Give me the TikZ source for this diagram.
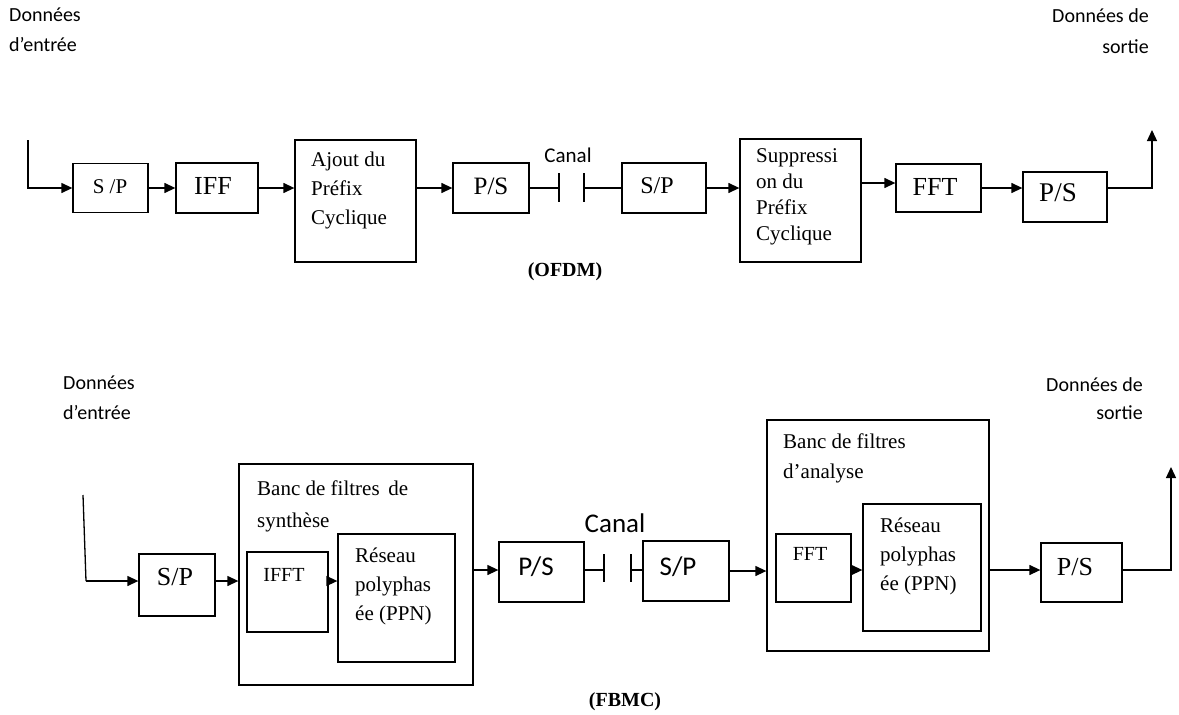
\documentclass[tikz,border=0pt]{standalone}
\usepackage{fontspec}
\setmainfont{Liberation Serif}
\newfontfamily\carl{Carlito}
\usetikzlibrary{arrows.meta,calc}
\newcommand\myfs[2]{\fontsize{#1}{#2}\selectfont}
\begin{document}
\begin{tikzpicture}[x=1pt,y=-1pt,
  box/.style={draw, line width=1.3pt, inner sep=0pt},
  arr/.style={line width=1.3pt, -{Triangle[length=11pt,width=10pt]}},
  ln/.style={line width=1.3pt},
  txt/.style={inner sep=0pt, align=left},
  rtxt/.style={inner sep=0pt, align=right},
]
\useasboundingbox (0,0) rectangle (1179,715);

% ================= OFDM =================
\node[txt, font=\carl\myfs{20}{30}, anchor=west] (din1) at (9,30) {Données\\d’entrée};
\node[rtxt, font=\carl\myfs{20}{31}, anchor=east] (dout1) at (1149,31) {Données de\\sortie};

\node[box, minimum width=75pt, minimum height=49pt] (sp1) at (110.5,188) {};
\node[txt, font=\myfs{21}{25}] (sp1t) at (110,187) {S /P};
\node[box, minimum width=82pt, minimum height=50pt] (iff) at (217,188) {};
\node[txt, font=\myfs{26}{30}] (ifft1) at (213,186) {IFF};
\node[box, minimum width=121pt, minimum height=122pt] (ajout) at (355.5,201) {};
\node[txt, font=\myfs{21}{29}, anchor=west] (ajoutt) at (311,190) {Ajout du\\Préfix\\Cyclique};
\node[box, minimum width=76pt, minimum height=50pt] (ps1) at (491,188) {};
\node[txt, font=\myfs{25}{29}] (ps1t) at (491,186) {P/S};
\node[box, minimum width=84pt, minimum height=50pt] (sp2) at (664,188) {};
\node[txt, font=\myfs{24}{28}] (sp2t) at (657,186) {S/P};
\node[box, minimum width=121pt, minimum height=123pt] (supp) at (800.5,200.5) {};
\node[txt, font=\myfs{21}{26}, anchor=west] (suppt) at (756,197) {Suppressi\\on du\\Préfix\\Cyclique};
\node[box, minimum width=85pt, minimum height=48pt] (fft) at (938.5,188) {};
\node[txt, font=\myfs{26}{30}] (fftt) at (935,187) {FFT};
\node[box, minimum width=84pt, minimum height=50pt] (ps2) at (1065,197) {};
\node[txt, font=\myfs{27}{31}] (ps2t) at (1058,193) {P/S};

\node[txt, font=\carl\myfs{21}{25}] (canal1) at (568,155) {Canal};
\node[txt, font=\bfseries\myfs{20}{24}] (ofdm) at (565,272) {(OFDM)};

\coordinate (in1) at (28,140);
\coordinate (out1) at (1152,130);
\coordinate (b1) at (559,188);
\coordinate (b2) at (584,188);
\coordinate (ya) at (0,188);
\coordinate (yb) at (0,183);

\draw[arr] (in1) |- (sp1.west);
\draw[arr] (sp1.east) -- (iff.west);
\draw[arr] (iff.east) -- (iff.east -| ajout.west);
\draw[arr] (ajout.east |- ya) -- (ps1.west);
\draw[ln] (ps1.east) -- (b1);
\draw[ln] ($(b1)+(0,-15)$) -- ($(b1)+(0,14)$);
\draw[ln] ($(b2)+(0,-15)$) -- ($(b2)+(0,14)$);
\draw[ln] (b2) -- (sp2.west);
\draw[arr] (sp2.east) -- (sp2.east -| supp.west);
\draw[arr] (supp.east |- yb) -- (fft.west |- yb);
\draw[arr] (fft.east) -- (fft.east -| ps2.west);
\draw[arr] (ps2.east |- ya) -| (out1);

% ================= FBMC =================
\node[txt, font=\carl\myfs{20}{30}, anchor=west] (din2) at (63,398) {Données\\d’entrée};
\node[rtxt, font=\carl\myfs{20}{28}, anchor=east] (dout2) at (1143,399) {Données de\\sortie};

\node[box, minimum width=76pt, minimum height=62pt] (sp3) at (177,585) {};
\node[txt, font=\myfs{26}{30}] (sp3t) at (175,577) {S/P};

\node[box, minimum width=234pt, minimum height=221pt] (synth) at (356,574.5) {};
\node[txt, font=\myfs{21}{32}, anchor=west] (syntht) at (257,506) {Banc de filtres \,de\\synthèse};
\node[box, minimum width=81pt, minimum height=80pt] (ifft) at (287.5,592) {};
\node[txt, font=\myfs{20}{24}] (iffttx) at (284,575) {IFFT};
\node[box, minimum width=117pt, minimum height=128pt] (res1) at (396.5,598) {};
\node[txt, font=\myfs{21}{29}, anchor=west] (res1t) at (355,586) {Réseau\\polyphas\\ée (PPN)};

\node[box, minimum width=85pt, minimum height=60pt] (ps3) at (541.5,572) {};
\node[txt, font=\carl\myfs{27}{31}] (ps3t) at (536,567) {P/S};
\node[box, minimum width=86pt, minimum height=60pt] (sp4) at (686,571) {};
\node[txt, font=\carl\myfs{27}{31}] (sp4t) at (678,567) {S/P};
\node[txt, font=\carl\myfs{27}{31}] (canal2) at (615,523) {Canal};

\node[box, minimum width=222pt, minimum height=231pt] (ana) at (878,535.5) {};
\node[txt, font=\myfs{21}{30}, anchor=west] (anat) at (783,458) {Banc de filtres\\d’analyse};
\node[box, minimum width=75pt, minimum height=68pt] (fft2) at (813.5,568) {};
\node[txt, font=\myfs{20}{24}] (fft2t) at (810,554) {FFT};
\node[box, minimum width=118pt, minimum height=127pt] (res2) at (922,567.5) {};
\node[txt, font=\myfs{21}{29}, anchor=west] (res2t) at (880,556) {Réseau\\polyphas\\ée (PPN)};

\node[box, minimum width=81pt, minimum height=59pt] (ps4) at (1081.5,572.5) {};
\node[txt, font=\myfs{26}{30}] (ps4t) at (1075,567) {P/S};

\node[txt, font=\bfseries\myfs{20}{24}] (fbmc) at (625,702) {(FBMC)};

\coordinate (in2) at (83,495);
\coordinate (c2) at (86,581);
\coordinate (y581) at (0,581);
\coordinate (y570) at (0,570);
\coordinate (out2) at (1171,467);
\coordinate (b3) at (604,570);
\coordinate (b4) at (631,570);

\draw[ln] (in2) -- (c2);
\draw[arr] (c2) -- (sp3.west |- c2);
\draw[arr] (sp3.east |- y581) -- (synth.west |- y581);
\draw[arr] (ifft.east |- y581) -- (res1.west |- y581);
\draw[arr] (synth.east |- y570) -- (ps3.west |- y570);
\draw[ln] (ps3.east |- y570) -- (b3);
\draw[ln] ($(b3)+(0,-16)$) -- ($(b3)+(0,12)$);
\draw[ln] ($(b4)+(0,-16)$) -- ($(b4)+(0,12)$);
\draw[ln] (b4) -- (sp4.west |- b4);
\draw[arr] (sp4.east) -- (sp4.east -| ana.west);
\draw[arr] (fft2.east |- y570) -- (res2.west |- y570);
\draw[arr] (ana.east |- y570) -- (ps4.west |- y570);
\draw[arr] (ps4.east |- y570) -| (out2);
\end{tikzpicture}
\end{document}
